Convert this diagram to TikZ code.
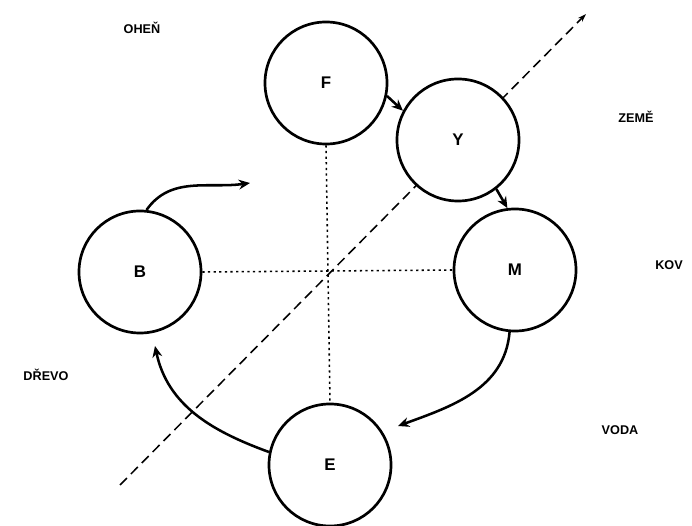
\documentclass[tikz,border=0pt]{standalone}
\usepackage{fontspec}
\setmainfont{Liberation Sans}
\usetikzlibrary{arrows.meta}

\begin{document}
\begin{tikzpicture}[
  x=0.025cm, y=0.025cm,
  wxcirc/.style = {circle, draw, line width=1.9pt, fill=white,
                   minimum size=3.05cm, inner sep=0pt, font=\large\bfseries},
  wxarr/.style = {line width=1.8pt, -{Stealth[length=8pt, width=7pt]}},
  wxaxis/.style = {line width=1.1pt, dash pattern=on 7pt off 4pt},
  wxgrid/.style = {line width=1.1pt, dash pattern=on 1.6pt off 2.4pt},
  wxlbl/.style = {font=\small\bfseries}
]
  \useasboundingbox (0,0) rectangle (692,526);
  % osy
  \coordinate (o) at (330,254);
  \coordinate (d1) at (120,41);
  \coordinate (d2) at (586,512);
  \draw[wxaxis, -{Stealth[length=6pt, width=4pt]}] (d1) -- (d2);
  % prvky
  \node[wxcirc] (F) at (326,443) {F};
  \node[wxcirc] (Y) at (458,386) {Y};
  \node[wxcirc] (M) at (515,256) {M};
  \node[wxcirc] (E) at (330,61) {E};
  \node[wxcirc] (B) at (140,254) {B};
  % tecky
  \draw[wxgrid] (F.south) -- (E.north);
  \draw[wxgrid] (B.east) -- (M.west);
  % cyklus
  \coordinate (bf) at (250,343);
  \coordinate (me) at (398,100);
  \coordinate (eb) at (155,180);
  \draw[wxarr] (B.84) to[out=55, in=188] (bf);
  \draw[wxarr] (F.-12) -- (Y.152);
  \draw[wxarr] (Y.-52) -- (M.97);
  \draw[wxarr] (M.265) to[out=-95, in=20] (me);
  \draw[wxarr] (E.168) to[out=160, in=-78] (eb);
  % popisky
  \node[wxlbl] (ohen) at (142,498) {OHEŇ};
  \node[wxlbl] (zeme) at (636,409) {ZEMĚ};
  \node[wxlbl] (kov) at (669,261) {KOV};
  \node[wxlbl] (drevo) at (46,151) {DŘEVO};
  \node[wxlbl] (voda) at (620,96) {VODA};
\end{tikzpicture}
\end{document}
